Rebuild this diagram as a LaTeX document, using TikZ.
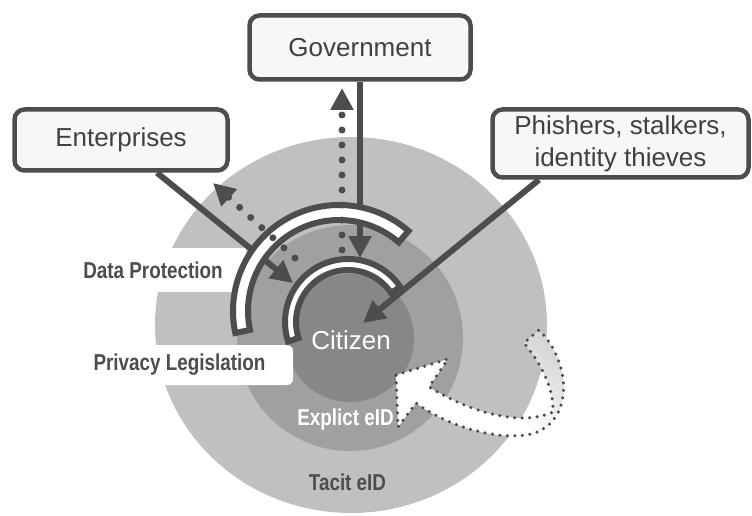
\documentclass[tikz,border=0pt]{standalone}
\usepackage{fontspec}
\setmainfont{Liberation Sans}
\newfontfamily\narrowfont[FakeStretch=0.82]{Liberation Sans}
\usepackage{xcolor}
\usepackage{tikz}
\usetikzlibrary{arrows.meta}

\definecolor{tacitgray}{HTML}{C0C0C0}
\definecolor{explicitgray}{HTML}{A0A0A0}
\definecolor{coregray}{HTML}{878787}
\definecolor{tailgray}{HTML}{D6D6D6}
\definecolor{ink}{HTML}{4D4D4D}
\definecolor{words}{HTML}{404040}
\definecolor{boxfill}{HTML}{F7F7F7}

\begin{document}
\begin{tikzpicture}[
    x=1pt, y=1pt,
    actor/.style={rectangle, rounded corners=10pt, draw=ink, line width=4.5pt, fill=boxfill, text=words, inner sep=0pt, align=center, font=\fontsize{26}{32}\selectfont},
    legal/.style={rectangle, fill=white, inner sep=0pt, text=ink, font=\narrowfont\bfseries\fontsize{23}{27}\selectfont},
    ring/.style={inner sep=0pt, font=\narrowfont\bfseries\fontsize{23}{27}\selectfont},
    band/.style={draw=ink, line width=6pt, fill=white},
    arrow/.style={draw=ink, line width=6pt, -{Triangle[length=22pt, width=22pt]}},
    back/.style={draw=ink, line width=7pt, line cap=round, dash pattern=on 0pt off 15pt, -{Triangle[length=22pt, width=22pt]}}
    ]
    \useasboundingbox (0,0) rectangle (752,515);

    % Rings of identity
    \fill[tacitgray] (351,190) ellipse [x radius=196, y radius=188];
    \fill[explicitgray] (350,177) circle [radius=113];
    \fill[coregray] (350,177) circle [radius=64];

    % Legislation labels
    \node (protect) [legal, minimum width=186pt, minimum height=44pt] at (153,245) {Data Protection};
    \node (privacy) [legal, rounded corners=6pt, minimum width=227pt, minimum height=40pt] at (179.5,150) {Privacy Legislation};

    % Actor nodes
    \node (gov) [actor, minimum width=221pt, minimum height=64pt] at (360,467.5) {Government};
    \node (ent) [actor, minimum width=213pt, minimum height=61pt] at (121,375) {Enterprises};
    \node (phi) [actor, minimum width=256pt, minimum height=68pt] at (620.5,371.5) {Phishers, stalkers,\\identity thieves};

    % End points on the rings
    \coordinate (outerArc) at (339,204);
    \coordinate (innerArc) at (348,193);
    \coordinate (govHit) at (360,257);
    \coordinate (entHit) at (293,232);
    \coordinate (phiHit) at (363,192);
    \coordinate (govFrom) at (342,265);
    \coordinate (govBack) at (342,427);
    \coordinate (entFrom) at (295,257);
    \coordinate (entBack) at (213,332);

    % Arrows going in, behind the shields
    \draw[arrow] (gov.south) -- (govHit);
    \draw[arrow] ([xshift=36pt]ent.south) -- (entHit);

    % Shields
    \draw[band] ([shift={(49:106)}]outerArc) arc[start angle=49, end angle=192, radius=106]
        -- ([shift={(192:91)}]outerArc) arc[start angle=192, end angle=49, radius=91] -- cycle;
    \draw[band] ([shift={(34:63)}]innerArc) arc[start angle=34, end angle=198, radius=63]
        -- ([shift={(198:52)}]innerArc) arc[start angle=198, end angle=34, radius=52] -- cycle;

    % Data going back out
    \draw[back] (govFrom) -- (govBack);
    \draw[back] (entFrom) -- (entBack);

    % Attack straight to the citizen
    \draw[arrow] ([xshift=-81.5pt]phi.south) -- (phiHit);

    % Ring names
    \node (citizen) [text=white, font=\fontsize{26}{32}\selectfont] at (351,175) {Citizen};
    \node (explicitTag) [ring, text=white] at (345.5,95) {Explict eID};
    \node (tacitTag) [ring, text=ink] at (347.5,33) {Tacit eID};

    % Curved arrow from tacit to explicit
    \draw[draw=ink, line width=3.5pt, line cap=round, dash pattern=on 0pt off 7.5pt,
        top color=tailgray, bottom color=white, middle color=white, shading angle=-45]
        (396,140) -- (448,156) -- (429,128) .. controls (470,103) and (520,88) .. (553,103)
        .. controls (554,130) and (538,155) .. (524,172) -- (539,185)
        .. controls (565,160) and (575,110) .. (546,88)
        .. controls (525,70) and (460,80) .. (416,112) -- (398,88) -- cycle;
\end{tikzpicture}
\end{document}
